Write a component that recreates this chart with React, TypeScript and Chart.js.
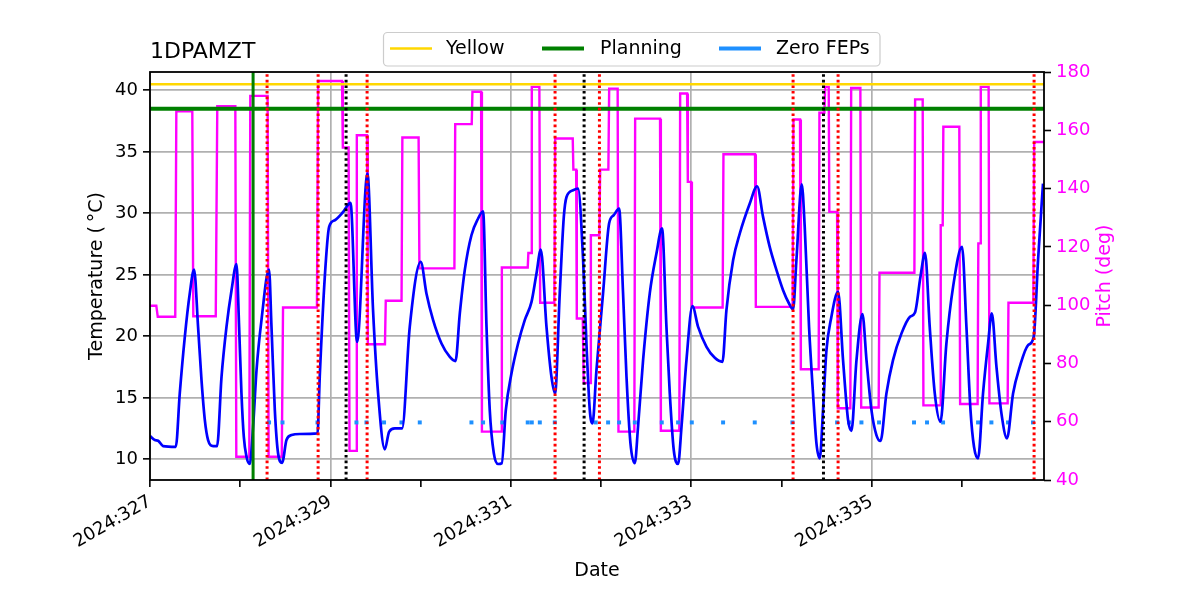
import React, { useEffect, useRef } from "react";
import { Chart, registerables } from "chart.js";

Chart.register(...registerables);

const FONT = '"DejaVu Sans", "Liberation Sans", sans-serif';

// ---- axis ranges and ticks ----
const X_MIN = 327.0;
const X_MAX = 336.912;
const T_MIN = 8.32;
const T_MAX = 41.49;
const P_MIN = 40;
const P_MAX = 180;
const DAY_TICKS = [327, 328, 329, 330, 331, 332, 333, 334, 335, 336];
const TEMP_TICKS = [10, 15, 20, 25, 30, 35, 40];
const PITCH_TICKS = [40, 60, 80, 100, 120, 140, 160, 180];

// ---- limits ----
const YELLOW_LIMIT = 40.5;
const PLANNING_LIMIT = 38.5;
const ZERO_FEPS_LEVEL = 13.0;

// ---- vertical markers (day of year) ----
const GREEN_LINES = [328.143];
const RED_LINES = [328.298, 328.864, 329.407, 331.491, 331.983, 334.13, 334.629, 336.802];
const BLACK_LINES = [329.174, 331.813, 334.467];

// ---- zero FEPs intervals (day of year) ----
const FEP_DAYS = [
  328.32, 328.469, 328.857, 329.289, 329.4, 329.595, 329.788, 329.991, 330.564, 330.693,
  330.906, 331.188, 331.233, 331.322, 331.488, 331.942, 332.079, 332.201, 332.375, 332.674,
  332.855, 333.007, 333.354, 333.705, 334.123, 334.618, 334.751, 334.888, 335.083, 335.471,
  335.615, 335.793, 336.181, 336.329, 336.513, 336.79,
];

// ---- 1DPAMZT temperature [day, degC] ----
const TEMPERATURE: [number, number][] = [
  [327.0, 11.89], [327.053, 11.57], [327.09, 11.51], [327.145, 11.08], [327.286, 11.02],
  [327.33, 15.36], [327.386, 19.96], [327.441, 23.49], [327.489, 25.43], [327.533, 20.77],
  [327.571, 16.44], [327.608, 13.19], [327.644, 11.57], [327.7, 11.08], [327.744, 11.08],
  [327.793, 16.71], [327.848, 20.77], [327.904, 23.75], [327.959, 25.87], [327.988, 20.77],
  [328.014, 15.36], [328.04, 11.84], [328.07, 10.21], [328.106, 9.62], [328.143, 12.65],
  [328.181, 17.25], [328.236, 21.32], [328.32, 25.43], [328.347, 20.77], [328.384, 14.0],
  [328.42, 10.49], [328.465, 9.72], [328.513, 11.57], [328.569, 11.97], [328.661, 12.06],
  [328.857, 12.11], [328.882, 16.71], [328.938, 24.83], [328.986, 28.9], [329.049, 29.44],
  [329.141, 30.11], [329.223, 30.85], [329.296, 19.55], [329.411, 33.23], [329.473, 22.13],
  [329.529, 15.36], [329.603, 10.81], [329.651, 12.24], [329.714, 12.52], [329.795, 12.52],
  [329.88, 20.77], [330.002, 26.05], [330.065, 23.49], [330.139, 21.32], [330.232, 19.42],
  [330.324, 18.33], [330.387, 17.99], [330.435, 21.86], [330.49, 25.38], [330.564, 28.22],
  [330.638, 29.58], [330.693, 30.17], [330.731, 20.77], [330.767, 14.0], [330.812, 10.49],
  [330.859, 9.62], [330.9, 9.68], [330.945, 14.0], [331.008, 16.99], [331.081, 19.42],
  [331.155, 21.32], [331.23, 22.8], [331.285, 25.11], [331.333, 27.06], [331.396, 20.77],
  [331.451, 16.71], [331.491, 15.36], [331.543, 23.49], [331.588, 29.71], [331.618, 31.33],
  [331.691, 31.88], [331.746, 32.01], [331.802, 26.19], [331.839, 19.42], [331.876, 14.0],
  [331.906, 12.92], [331.95, 17.25], [332.023, 23.49], [332.09, 29.17], [332.142, 29.85],
  [332.201, 30.39], [332.245, 23.49], [332.283, 16.71], [332.327, 11.3], [332.375, 9.68],
  [332.411, 12.65], [332.467, 18.07], [332.541, 23.49], [332.615, 26.73], [332.677, 28.77],
  [332.726, 20.77], [332.763, 15.36], [332.807, 10.76], [332.855, 9.62], [332.893, 12.65],
  [332.948, 18.07], [333.014, 22.45], [333.077, 20.77], [333.17, 19.15], [333.262, 18.25],
  [333.347, 17.93], [333.391, 22.13], [333.465, 26.19], [333.539, 28.36], [333.65, 30.8],
  [333.731, 32.2], [333.797, 29.71], [333.871, 27.27], [333.946, 25.38], [334.019, 23.75],
  [334.085, 22.67], [334.13, 22.18], [334.167, 26.19], [334.226, 32.36], [334.259, 28.9],
  [334.307, 20.77], [334.351, 15.36], [334.389, 11.3], [334.426, 10.08], [334.462, 14.0],
  [334.5, 18.88], [334.548, 21.32], [334.629, 23.61], [334.684, 18.07], [334.74, 13.19],
  [334.777, 12.32], [334.833, 18.07], [334.899, 21.8], [334.944, 18.07], [334.999, 14.0],
  [335.054, 11.97], [335.099, 11.49], [335.165, 15.36], [335.238, 18.07], [335.332, 20.24],
  [335.424, 21.58], [335.482, 21.94], [335.542, 24.83], [335.593, 26.78], [335.645, 20.77],
  [335.701, 15.36], [335.764, 13.05], [335.83, 19.42], [335.904, 24.02], [336.003, 27.27],
  [336.052, 20.77], [336.097, 14.0], [336.136, 11.02], [336.181, 10.08], [336.236, 15.36],
  [336.292, 19.42], [336.333, 21.86], [336.385, 17.52], [336.44, 13.74], [336.502, 11.71],
  [336.569, 15.36], [336.643, 17.52], [336.735, 19.28], [336.798, 19.96], [336.846, 26.19],
  [336.901, 32.42],
];

// ---- pitch [day, deg] ----
const PITCH: [number, number][] = [
  [327.0, 99.8], [327.07, 99.8], [327.086, 96.0], [327.28, 96.0], [327.292, 166.5],
  [327.469, 166.5], [327.48, 96.2], [327.729, 96.2], [327.746, 168.3], [327.946, 168.3],
  [327.957, 48.0], [328.101, 48.0], [328.112, 171.8], [328.304, 171.8], [328.315, 48.0],
  [328.461, 48.0], [328.475, 99.2], [328.851, 99.2], [328.864, 176.9], [329.129, 176.9],
  [329.138, 154.1], [329.202, 154.1], [329.212, 50.0], [329.284, 50.0], [329.293, 158.3],
  [329.406, 158.3], [329.415, 86.6], [329.605, 86.6], [329.614, 101.5], [329.789, 101.5],
  [329.798, 157.5], [329.978, 157.5], [329.987, 112.6], [330.375, 112.6], [330.384, 162.1],
  [330.567, 162.1], [330.575, 173.2], [330.671, 173.2], [330.68, 56.6], [330.892, 56.6],
  [330.901, 112.9], [331.188, 112.9], [331.195, 117.9], [331.226, 117.9], [331.233, 174.9],
  [331.317, 174.9], [331.326, 100.8], [331.483, 100.8], [331.492, 157.2], [331.687, 157.2],
  [331.694, 146.5], [331.725, 146.5], [331.732, 95.4], [331.798, 95.4], [331.809, 73.3],
  [331.879, 73.3], [331.888, 124.0], [331.982, 124.0], [331.991, 146.5], [332.082, 146.5],
  [332.091, 174.3], [332.185, 174.3], [332.194, 56.6], [332.37, 56.6], [332.379, 164.0],
  [332.655, 164.0], [332.664, 56.9], [332.869, 56.9], [332.878, 172.6], [332.955, 172.6],
  [332.963, 142.3], [332.999, 142.3], [333.008, 99.2], [333.349, 99.2], [333.358, 151.8],
  [333.708, 151.8], [333.717, 99.4], [334.125, 99.4], [334.134, 163.7], [334.207, 163.7],
  [334.216, 78.0], [334.414, 78.0], [334.422, 166.0], [334.477, 166.0], [334.486, 174.9],
  [334.525, 174.9], [334.532, 132.0], [334.618, 132.0], [334.626, 64.6], [334.765, 64.6],
  [334.774, 174.5], [334.876, 174.5], [334.885, 64.9], [335.079, 64.9], [335.088, 111.1],
  [335.475, 111.1], [335.483, 170.6], [335.567, 170.6], [335.575, 65.6], [335.759, 65.6],
  [335.767, 127.4], [335.789, 127.4], [335.796, 161.2], [335.973, 161.2], [335.982, 66.1],
  [336.176, 66.1], [336.184, 121.2], [336.203, 121.2], [336.211, 174.9], [336.298, 174.9],
  [336.307, 66.3], [336.509, 66.3], [336.518, 100.8], [336.794, 100.8], [336.803, 156.0],
  [336.912, 156.0],
];

const LEGEND_ITEMS = [
  { label: "Yellow", color: "#FFD700", width: 2.5 },
  { label: "Planning", color: "#008000", width: 4 },
  { label: "Zero FEPs", color: "#1E90FF", width: 4 },
];

type Pt = { x: number; y: number | null };

function vlines(days: number[]): Pt[] {
  const out: Pt[] = [];
  days.forEach((d) => {
    out.push({ x: d, y: T_MIN }, { x: d, y: T_MAX }, { x: d, y: null });
  });
  return out;
}

function hline(v: number): Pt[] {
  return [
    { x: X_MIN, y: v },
    { x: X_MAX, y: v },
  ];
}

const decorPlugin = {
  id: "decor",
  afterDatasetsDraw(chart: any) {
    const { ctx, chartArea } = chart;
    const { left, right, top, bottom } = chartArea;
    ctx.save();
    // frame
    ctx.strokeStyle = "#000";
    ctx.lineWidth = 1.8;
    ctx.strokeRect(left, top, right - left, bottom - top);

    // title
    ctx.fillStyle = "#000";
    ctx.font = `22px ${FONT}`;
    ctx.textAlign = "left";
    ctx.textBaseline = "alphabetic";
    ctx.fillText("1DPAMZT", left, 58);

    // axis labels
    ctx.font = `19px ${FONT}`;
    ctx.textAlign = "center";
    ctx.textBaseline = "middle";
    ctx.fillText("Date", (left + right) / 2, 571);

    ctx.save();
    ctx.translate(97, (top + bottom) / 2);
    ctx.rotate(-Math.PI / 2);
    ctx.fillText("Temperature (\u2009\u00B0C)", 0, 0);
    ctx.restore();

    ctx.save();
    ctx.fillStyle = "#FF00FF";
    ctx.translate(1105, (top + bottom) / 2);
    ctx.rotate(-Math.PI / 2);
    ctx.fillText("Pitch (deg)", 0, 0);
    ctx.restore();

    // legend
    const bx = 383.5, by = 32.5, bw = 496.5, bh = 33.5;
    ctx.beginPath();
    ctx.roundRect(bx, by, bw, bh, 4);
    ctx.fillStyle = "rgba(255,255,255,0.8)";
    ctx.fill();
    ctx.strokeStyle = "#cccccc";
    ctx.lineWidth = 1.2;
    ctx.stroke();
    const lineStarts = [390, 542, 719];
    const textStarts = [446, 600, 776];
    ctx.font = `19px ${FONT}`;
    ctx.textAlign = "left";
    ctx.textBaseline = "middle";
    LEGEND_ITEMS.forEach((it, i) => {
      ctx.beginPath();
      ctx.strokeStyle = it.color;
      ctx.lineWidth = it.width;
      ctx.moveTo(lineStarts[i], 48.5);
      ctx.lineTo(lineStarts[i] + 42, 48.5);
      ctx.stroke();
      ctx.fillStyle = "#000";
      ctx.fillText(it.label, textStarts[i], 49);
    });
    ctx.restore();
  },
};

export default function App() {
  const ref = useRef<HTMLCanvasElement | null>(null);

  useEffect(() => {
    if (!ref.current) return;
    const dotted = [2.6, 3.0];
    const chart = new Chart(ref.current, {
      type: "line",
      data: {
        datasets: [
          {
            label: "green vlines",
            data: vlines(GREEN_LINES),
            borderColor: "#008000",
            borderWidth: 3,
            pointRadius: 0,
            yAxisID: "y",
            order: 0,
          },
          {
            label: "red vlines",
            data: vlines(RED_LINES),
            borderColor: "#FF0000",
            borderWidth: 3,
            borderDash: dotted,
            pointRadius: 0,
            yAxisID: "y",
            order: 0,
          },
          {
            label: "black vlines",
            data: vlines(BLACK_LINES),
            borderColor: "#000000",
            borderWidth: 3,
            borderDash: dotted,
            pointRadius: 0,
            yAxisID: "y",
            order: 0,
          },
          {
            label: "Yellow",
            data: hline(YELLOW_LIMIT),
            borderColor: "#FFD700",
            borderWidth: 2.5,
            pointRadius: 0,
            yAxisID: "y",
            order: 1,
          },
          {
            label: "Planning",
            data: hline(PLANNING_LIMIT),
            borderColor: "#008000",
            borderWidth: 4,
            pointRadius: 0,
            yAxisID: "y",
            order: 1,
          },
          {
            label: "1DPAMZT",
            data: TEMPERATURE.map(([x, y]) => ({ x, y })),
            borderColor: "#0000FF",
            borderWidth: 2.7,
            pointRadius: 0,
            cubicInterpolationMode: "monotone",
            yAxisID: "y",
            order: 2,
          },
          {
            label: "Zero FEPs",
            data: FEP_DAYS.map((x) => ({ x, y: ZERO_FEPS_LEVEL })),
            showLine: false,
            pointStyle: "rect",
            pointRadius: 2.8,
            pointBorderWidth: 0,
            pointBackgroundColor: "#1E90FF",
            borderColor: "#1E90FF",
            yAxisID: "y",
            order: 3,
          },
          {
            label: "Pitch",
            data: PITCH.map(([x, y]) => ({ x, y })),
            borderColor: "#FF00FF",
            borderWidth: 2.4,
            pointRadius: 0,
            tension: 0,
            yAxisID: "y1",
            order: 4,
          },
        ] as any,
      },
      options: {
        animation: false,
        responsive: false,
        maintainAspectRatio: false,
        events: [],
        layout: { padding: { top: 72, left: 0, right: 0, bottom: 0 } },
        plugins: {
          legend: { display: false },
          tooltip: { enabled: false },
          title: { display: false },
        },
        scales: {
          x: {
            type: "linear",
            position: "bottom",
            min: X_MIN,
            max: X_MAX,
            afterBuildTicks: (s: any) => {
              s.ticks = DAY_TICKS.map((v) => ({ value: v }));
            },
            afterFit: (s: any) => {
              s.height = 120;
            },
            border: { display: false },
            grid: {
              color: (c: any) =>
                c.tick && c.tick.value % 2 === 1 ? "#b0b0b0" : "rgba(0,0,0,0)",
              lineWidth: 1.7,
              tickColor: "#000",
              tickLength: 7,
              tickWidth: 1.6,
            },
            ticks: {
              autoSkip: false,
              minRotation: 30,
              maxRotation: 30,
              padding: 4,
              color: "#000",
              font: { family: FONT, size: 18 },
              callback: (v: any) => (Number(v) % 2 === 1 ? `2024:${v}` : ""),
            },
          },
          y: {
            type: "linear",
            position: "left",
            min: T_MIN,
            max: T_MAX,
            afterBuildTicks: (s: any) => {
              s.ticks = TEMP_TICKS.map((v) => ({ value: v }));
            },
            afterFit: (s: any) => {
              s.width = 150;
            },
            border: { display: false },
            grid: {
              color: "#b0b0b0",
              lineWidth: 1.7,
              tickColor: "#000",
              tickLength: 7,
              tickWidth: 1.6,
            },
            ticks: {
              padding: 5,
              color: "#000",
              font: { family: FONT, size: 18 },
              callback: (v: any) => `${v}`,
            },
          },
          y1: {
            type: "linear",
            position: "right",
            min: P_MIN,
            max: P_MAX,
            afterBuildTicks: (s: any) => {
              s.ticks = PITCH_TICKS.map((v) => ({ value: v }));
            },
            afterFit: (s: any) => {
              s.width = 156;
            },
            border: { display: false },
            grid: {
              drawOnChartArea: false,
              color: "#000",
              tickColor: "#000",
              tickLength: 7,
              tickWidth: 1.6,
            },
            ticks: {
              padding: 5,
              color: "#FF00FF",
              font: { family: FONT, size: 18 },
              callback: (v: any) => `${v}`,
            },
          },
        },
      } as any,
      plugins: [decorPlugin],
    });
    return () => chart.destroy();
  }, []);

  return (
    <div style={{ position: "absolute", left: 0, top: 0, width: 1200, height: 600, background: "#fff" }}>
      <canvas ref={ref} width={1200} height={600} style={{ display: "block" }} />
    </div>
  );
}
